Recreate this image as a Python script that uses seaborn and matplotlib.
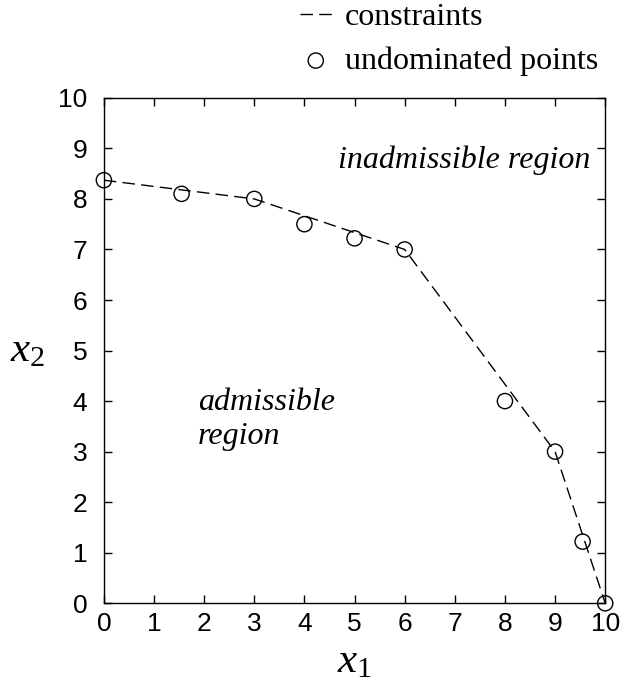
import matplotlib
matplotlib.use("Agg")
import matplotlib.pyplot as plt
import seaborn as sns
import pandas as pd

sns.set_style("ticks")
plt.rcParams['font.family'] = ['Liberation Sans', 'DejaVu Sans']
plt.rcParams['mathtext.fontset'] = 'custom'
plt.rcParams['mathtext.it'] = 'Liberation Serif:italic'
plt.rcParams['mathtext.rm'] = 'Liberation Serif'
plt.rcParams['text.color'] = 'black'
plt.rcParams['axes.labelcolor'] = 'black'

# constraint boundary (dashed)
constraint_x1 = [0, 3, 6, 9, 10]
constraint_x2 = [8.37, 8.0, 7.0, 3.0, 0.0]

# undominated points
point_x1 = [0, 1.55, 3, 4, 5, 6, 8, 9, 9.55, 10]
point_x2 = [8.37, 8.1, 8.0, 7.5, 7.22, 7.0, 4.0, 3.0, 1.22, 0.0]

ticks = list(range(0, 11))

df_c = pd.DataFrame({"x1": constraint_x1, "x2": constraint_x2})
df_p = pd.DataFrame({"x1": point_x1, "x2": point_x2})

fig = plt.figure(figsize=(6.22, 6.84), dpi=100)
ax = fig.add_axes([0.167, 0.118, 0.806, 0.739])

sns.lineplot(data=df_c, x="x1", y="x2", ax=ax, color="black", lw=1.0,
             dashes=False, label="constraints", sort=False)
ax.lines[0].set_dashes((9, 4.5))
ax.scatter(df_p["x1"], df_p["x2"], s=120, facecolors="none", edgecolors="black",
           linewidths=1.0, label="undominated points", zorder=3, clip_on=False)

ax.set_xlim(0, 10)
ax.set_ylim(0, 10)
ax.set_xticks(ticks)
ax.set_yticks(ticks)
ax.tick_params(direction="in", length=6, width=1, top=True, right=True,
               labelsize=19, colors="black")
ax.tick_params(axis="x", pad=6)
ax.tick_params(axis="y", pad=12)
for s in ax.spines.values():
    s.set_linewidth(1.0)
    s.set_color("black")

ax.set_xlabel(r"$x_\mathrm{1}$", fontsize=31, labelpad=4)
ax.set_ylabel(r"$x_\mathrm{2}$", fontsize=31, rotation=0, labelpad=22, va="center")

ax.text(9.7, 8.61, "inadmissible region", ha="right", va="baseline",
        fontsize=23, family="Liberation Serif", style="italic")
ax.text(1.87, 3.15, "admissible\nregion", ha="left", va="baseline",
        fontsize=23, family="Liberation Serif", style="italic", linespacing=1.25)

h, l = ax.get_legend_handles_labels()
ax.get_legend().remove()
fig.legend(h, l, loc="upper left", bbox_to_anchor=(0.482, 0.996), frameon=False,
           prop={"family": "Liberation Serif", "size": 23},
           handlelength=1.0, handletextpad=0.42, labelspacing=0.45,
           borderpad=0.0, borderaxespad=0.0)

fig.savefig("out.png", dpi=100)
